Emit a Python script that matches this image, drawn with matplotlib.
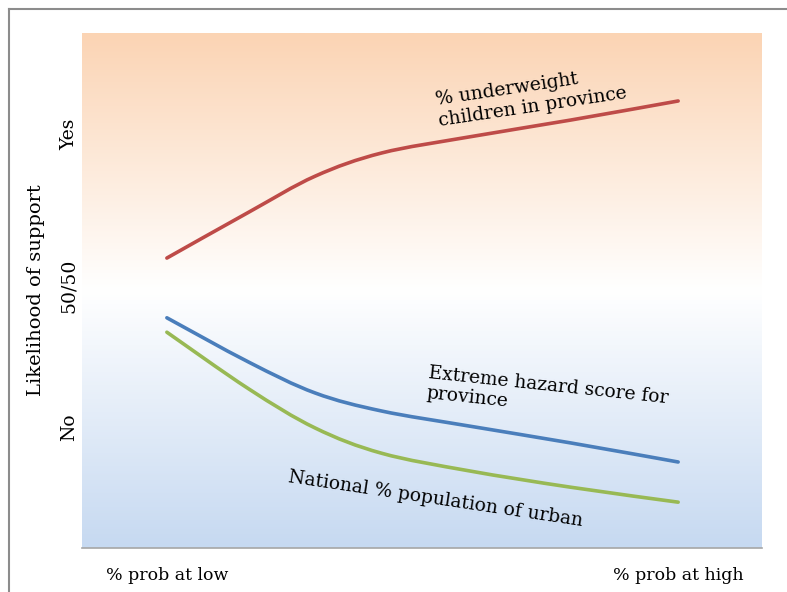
import numpy as np
import matplotlib
matplotlib.use("Agg")
import matplotlib.pyplot as plt
from matplotlib.colors import LinearSegmentedColormap
from matplotlib.lines import Line2D
from matplotlib.path import Path
from matplotlib.patches import PathPatch

# position along the driver, 0 = "% prob at low", 10 = "% prob at high"
x = [0, 1.6, 2.9, 4.2, 5.9, 7.9, 10]

# likelihood of support (0-100 scale)
underweight = [56.3, 65.2, 72.2, 76.7, 79.8, 83.1, 86.8]
hazard = [44.7, 36.1, 30.1, 26.6, 23.7, 20.4, 16.7]
urban = [41.9, 30.9, 23.3, 18.4, 15.0, 11.8, 8.9]

x_ticks = [0, 10]
x_labels = ["% prob at low", "% prob at high"]
y_ticks = [23.5, 51, 80.4]
y_labels = ["No", "50/50", "Yes"]

FONT = "DejaVu Serif"


def smooth_path(xs, ys):
    # Excel-style smoothed line: cubic Bezier segments through every point
    p = np.column_stack([xs, ys]).astype(float)
    verts = [p[0]]
    codes = [Path.MOVETO]
    n = len(p)
    for i in range(n - 1):
        prev = p[i - 1] if i > 0 else p[i]
        nxt = p[i + 2] if i + 2 < n else p[i + 1]
        c1 = p[i] + (p[i + 1] - prev) / 6
        c2 = p[i + 1] - (nxt - p[i]) / 6
        verts += [c1, c2, p[i + 1]]
        codes += [Path.CURVE4] * 3
    return Path(verts, codes)


fig = plt.figure(figsize=(7.87, 5.92), dpi=100)
ax = fig.add_axes([82 / 787, 44 / 592, 680 / 787, 515 / 592])

xlim = (-1.66, 11.64)
ylim = (0, 100)

# vertical peach -> white -> blue background
cmap = LinearSegmentedColormap.from_list(
    "bg", [(0.0, "#c6d9f1"), (0.5, "#ffffff"), (1.0, "#fbd4b4")])
grad = np.linspace(0, 1, 256).reshape(-1, 1)
ax.imshow(grad, cmap=cmap, aspect="auto", origin="lower",
          extent=(*xlim, *ylim), zorder=0, interpolation="bilinear")

for ys, col in [(underweight, "#be4b48"), (hazard, "#4a7ebb"), (urban, "#98b954")]:
    ax.add_patch(PathPatch(smooth_path(x, ys), facecolor="none", edgecolor=col,
                           lw=2.6, capstyle="round", zorder=3))

ax.set_xlim(*xlim)
ax.set_ylim(*ylim)

ax.set_xticks(x_ticks)
ax.set_xticklabels(x_labels, fontsize=12.5, family=FONT)
ax.set_yticks(y_ticks)
ax.set_yticklabels(y_labels, fontsize=13.5, family=FONT, rotation=90, va="center")
ax.tick_params(length=0, pad=14)
ax.tick_params(axis="y", pad=3)
ax.set_ylabel("Likelihood of support", fontsize=14, family=FONT)
ax.yaxis.set_label_coords(-0.055, 0.5)

for s in ("top", "right", "left"):
    ax.spines[s].set_visible(False)
ax.spines["bottom"].set_color("#a6a6a6")
ax.spines["bottom"].set_linewidth(1.2)

# curve labels
ax.text(7.13, 87.7, "% underweight\nchildren in province", rotation=8.5,
        ha="center", va="center", ma="left", fontsize=13.5, family=FONT,
        rotation_mode="anchor", zorder=4)
ax.text(7.45, 29.6, "Extreme hazard score for\nprovince", rotation=-6,
        ha="center", va="center", ma="left", fontsize=13.5, family=FONT,
        rotation_mode="anchor", zorder=4)
ax.text(5.25, 9.5, "National % population of urban", rotation=-8.5,
        ha="center", va="center", fontsize=13.5, family=FONT,
        rotation_mode="anchor", zorder=4)

# outer frame (left and top edges)
fig.add_artist(Line2D([9 / 787, 9 / 787], [0, 1 - 9 / 592],
                      transform=fig.transFigure, color="#8c8c8c", lw=1.5))
fig.add_artist(Line2D([9 / 787, 1], [1 - 9 / 592, 1 - 9 / 592],
                      transform=fig.transFigure, color="#8c8c8c", lw=1.5))

fig.savefig("out.png", dpi=100)
